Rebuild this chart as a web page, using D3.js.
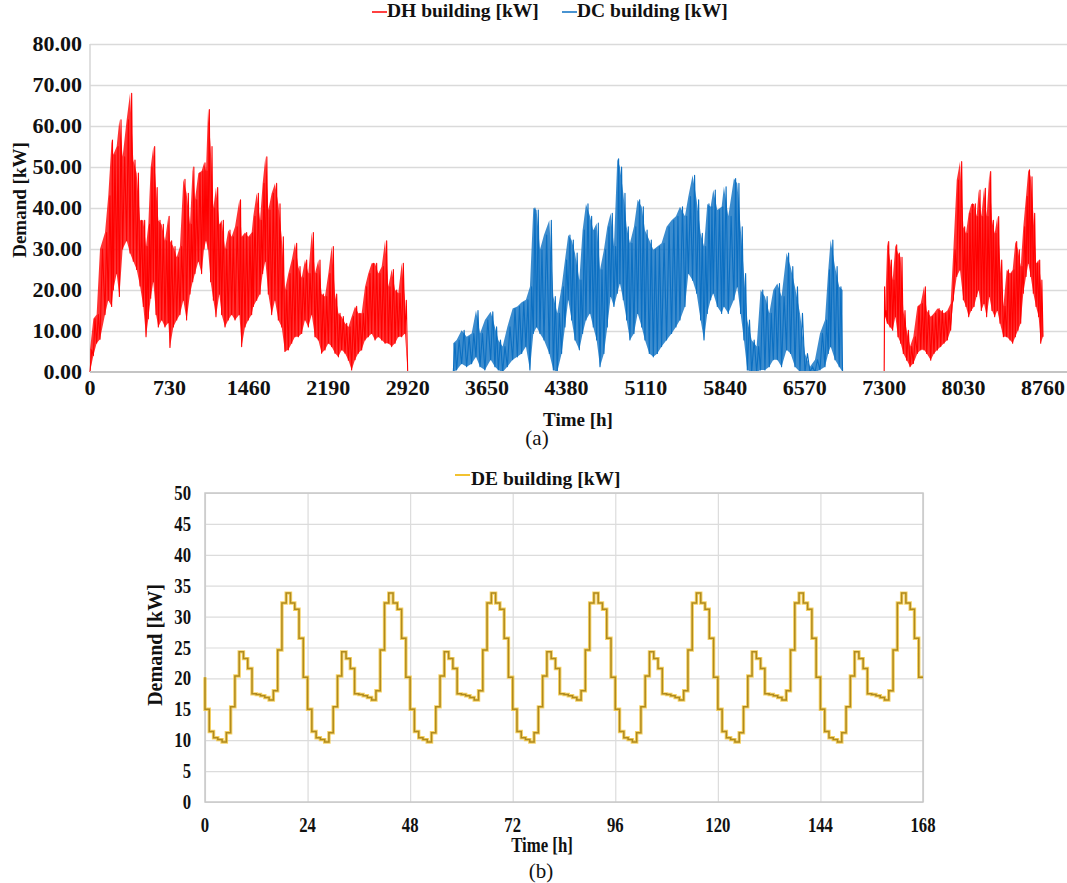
<!DOCTYPE html>
<html><head><meta charset="utf-8">
<script src="https://cdn.jsdelivr.net/npm/d3@7"></script>
<style>
body{margin:0;background:#fff}
svg{display:block}
text{font-family:"Liberation Serif","Times New Roman",serif;fill:#111}
</style>
</head><body>
<svg id="c" width="1067" height="883"></svg>
<script>
// ---------- DATA ----------
// (a) yearly demand: envelope samples (hour, daily-peak high, daily low)
const dhHours1 = [0,31,61,92,138,168,199,214,245,270,300,337,368,398,429,460,490,515,536,558,582,607,628,659,689,720,735,766,797,827,858,888,919,944,965,996,1026,1048,1066,1085,1109,1134,1158,1189,1210,1241,1271,1302,1333,1373,1394,1425,1455,1486,1501,1532,1563,1587,1612,1639,1670,1700,1731,1762,1792,1823,1854,1884,1915,1946,1976,2007,2038,2068,2099,2129,2160,2191,2221,2252,2283,2313,2344,2375,2405,2436,2466,2497,2528,2558,2589,2620,2650,2681,2712,2742,2773,2804,2834,2865,2895,2920];
const dhHigh1 = [5.4,13,14,30,34,43,56.6,53,55,61.5,52.5,61.5,68,51.7,48.5,37,37,30.6,36,50,55,45,37,36,32,38,32,30.6,28,30.6,47,43.6,36,50,42,48.5,49,51,49,64,55,40,45,36,37,30,34.6,33,35.4,42,33,34,33,34,38,43.6,37,46,52.5,39.5,43.6,46,41,33,20,24,27.3,31.4,25.7,23,27.3,24,34,24,27.3,19,18.4,24,30.6,19,14.3,13.5,11.9,11,13.5,16,14.3,14.3,20.8,24,26.5,26.5,24,25.7,32,20.8,25,20,19.2,26.5,17.5,0];
const dhLow1 = [0,4,7,8,14,17.5,16,20,24,18.4,30,32,29,27,25,21,16,8.6,13,18,22,14,11,12.7,11,12,6,11,12.7,14,17.5,12.7,19,22,24,27,24,30,32,30,22,17.5,13.5,19,14,11,12.7,14,12.7,14,6.2,11,12.7,14,16,17.5,19,24,27,19,14,17.5,12.7,11,5,5.4,7,8.6,8.6,9.4,12.7,11,14,8.6,7.8,4.6,5.4,7,6.2,4.6,3.7,5.4,4.6,2.9,0.5,3,4.6,5.4,7.8,8.6,9.4,7.8,8.6,7.8,7,7,6.2,7,8.6,8.6,9.4,0];

const dcHours = [3339,3370,3416,3462,3508,3548,3585,3630,3683,3722,3753,3793,3836,3885,3928,3968,4007,4044,4075,4105,4136,4173,4222,4259,4295,4335,4366,4396,4427,4458,4498,4528,4559,4596,4626,4657,4688,4724,4755,4786,4816,4847,4871,4902,4933,4963,5000,5034,5071,5101,5141,5178,5215,5254,5300,5346,5386,5423,5469,5500,5539,5576,5613,5644,5674,5705,5729,5766,5806,5827,5867,5919,5950,5980,6011,6042,6082,6128,6164,6204,6244,6281,6318,6357,6403,6440,6480,6526,6572,6618,6664,6710,6756,6786,6808,6848,6887,6918];
const dcHigh = [7,7.8,10.2,8.6,9.4,15,9.4,12.7,14.7,11,7.8,6.2,11,15.5,16,17,17.6,20.8,40,39.5,29.8,33.4,37,18.4,14.3,20.8,27.3,33.4,32.2,29,22.4,34.6,41,38,34.6,36.3,24.9,29.8,35.4,38.7,30.6,52,50,43.6,35.4,31.4,35.4,42,40.3,34.6,32.2,29.8,30.6,31.4,35.4,37,38,40.3,38,42.8,48,42,33.8,30.6,41,40.3,44.4,39.5,40.3,45.2,38,47.2,46,35.4,24,12.7,7.8,6.2,20,18.4,14.3,20,21.6,18.4,29,25.7,20.8,14.3,4.5,1.3,3,9.4,12.7,24.9,32.2,25.7,20.8,20];
const dcLow = [0,0.5,2,1.3,2,3.7,1.3,0.5,3,1.3,0.5,0,1.3,3,3.7,4.5,6.2,0.5,9.4,11,9.4,7.8,4.5,0.5,0,4.5,11,17.6,12.7,7.8,5.4,9.4,12.7,14.3,11,7.8,1.3,4.5,11,18.4,16,19.2,21.6,17.6,12.7,7.8,9.4,14.3,11,7.8,4.5,3.7,4.5,6.2,7.8,9.4,11,12.7,16,24,22.4,19.2,12.7,7.8,14.3,17.6,19.2,16,14.3,16,14.3,17.6,20.8,14.3,7.8,0.5,0,0,0.5,0.5,1.3,3,3,1.3,5.4,4.5,1.3,0,0,0,0,0.5,1.3,4.5,6.2,3,1.3,0];

const dhHours2 = [7300,7308,7329,7354,7378,7403,7427,7452,7476,7507,7538,7568,7605,7636,7666,7691,7728,7758,7789,7820,7850,7881,7911,7936,7967,7997,8028,8052,8077,8101,8126,8150,8169,8193,8218,8242,8267,8291,8316,8340,8365,8396,8426,8457,8481,8506,8530,8555,8579,8604,8625,8647,8671,8696,8720,8739,8760];
const dhHigh2 = [20.8,15,31.8,27.3,22.4,31,29,28,15,10.2,6.2,8.6,16,16.7,20.8,15,13.5,14.3,15.5,15,14.3,15,16.7,29.8,46.8,51.3,35.4,33.8,38.7,41,41,37.9,44.4,37.9,44.8,37.9,48.9,37,33.8,37.9,27.3,16,24.9,24,24.9,31.8,29.8,25.7,35.4,42.8,49.3,47.6,38.7,26.5,27.3,22.4,14.3];
const dhLow2 = [0,13.5,11.9,11,10.2,13.5,8.6,7,4.5,2.9,1.3,2.1,4.5,5.4,5.4,4.5,2.9,4.5,5.4,6.2,7,7.8,10.2,17.6,23.3,24.9,17.6,16,13.5,15,16,18.4,20,15,16.7,13.5,18.4,15,13.5,15,11.9,8.6,8.6,7.8,7,8.6,10.2,11.9,19.2,23.3,26.5,23.3,19.2,16,13.5,7,8.6];

const yTicksA = [0,10,20,30,40,50,60,70,80];
const xTicksA = [0,730,1460,2190,2920,3650,4380,5110,5840,6570,7300,8030,8760];

// (b) one week of hourly DE demand [kW], value k covers hour (k-1, k]
const deDemand = [20.2,
 15,11.4,10.4,10.1,9.7,11.2,15.4,20.4,24.3,23.2,21.6,17.5,17.4,17.2,16.9,16.5,18.0,24.6,32.2,33.8,32.2,31.2,26.5,20.2,
 15,11.4,10.4,10.1,9.7,11.2,15.4,20.4,24.3,23.2,21.6,17.5,17.4,17.2,16.9,16.5,18.0,24.6,32.2,33.8,32.2,31.2,26.5,20.2,
 15,11.4,10.4,10.1,9.7,11.2,15.4,20.4,24.3,23.2,21.6,17.5,17.4,17.2,16.9,16.5,18.0,24.6,32.2,33.8,32.2,31.2,26.5,20.2,
 15,11.4,10.4,10.1,9.7,11.2,15.4,20.4,24.3,23.2,21.6,17.5,17.4,17.2,16.9,16.5,18.0,24.6,32.2,33.8,32.2,31.2,26.5,20.2,
 15,11.4,10.4,10.1,9.7,11.2,15.4,20.4,24.3,23.2,21.6,17.5,17.4,17.2,16.9,16.5,18.0,24.6,32.2,33.8,32.2,31.2,26.5,20.2,
 15,11.4,10.4,10.1,9.7,11.2,15.4,20.4,24.3,23.2,21.6,17.5,17.4,17.2,16.9,16.5,18.0,24.6,32.2,33.8,32.2,31.2,26.5,20.2,
 15,11.4,10.4,10.1,9.7,11.2,15.4,20.4,24.3,23.2,21.6,17.5,17.4,17.2,16.9,16.5,18.0,24.6,32.2,33.8,32.2,31.2,26.5,20.2];
const yTicksB = [0,5,10,15,20,25,30,35,40,45,50];
const xTicksB = [0,24,48,72,96,120,144,168];

// ---------- DRAWING ----------
const svg = d3.select('#c');
const RED = '#FF0000', BLUE = '#0B6FC2', GOLD = '#B08A1E', GOLD2 = '#F2C230';

function label(x, y, s, o) {
  let tr = `translate(${x},${y})`;
  if (o.rot) tr += ` rotate(${o.rot})`;
  if (o.sx) tr += ` scale(${o.sx},1)`;
  svg.append('text').attr('transform', tr)
    .attr('text-anchor', o.anchor || 'middle')
    .attr('font-size', o.size)
    .attr('font-weight', o.bold ? 'bold' : 'normal')
    .text(s);
}

// ---- chart (a) ----
const xA = d3.scaleLinear([0, 8760], [90, 1043]);
const yA = d3.scaleLinear([0, 80], [372, 44]);
const gA = svg.append('g');

gA.append('g').attr('transform', 'translate(90,0)')
  .call(d3.axisLeft(yA).tickValues(yTicksA.slice(1)).tickSize(-(1067 - 90)).tickFormat(''))
  .call(g => g.select('.domain').remove())
  .call(g => g.selectAll('line').attr('stroke', '#dadada').attr('stroke-width', 1.6));
gA.append('line').attr('x1', 90).attr('x2', 90).attr('y1', yA(80)).attr('y2', yA(0))
  .attr('stroke', '#d6d6d6').attr('stroke-width', 1.5);

function envelope(hours, hi, lo, color) {
  const pts = [];
  hours.forEach((h, i) => {
    pts.push([h, lo[i]]);
    if (i < hours.length - 1) pts.push([(h + hours[i + 1]) / 2, hi[i]]);
  });
  const band = hours.map((h, i) => [h, lo[i], hi[i]]);
  gA.append('path').datum(band)
    .attr('d', d3.area().x(d => xA(d[0])).y0(d => yA(d[1])).y1(d => yA(d[2])))
    .attr('fill', color).attr('fill-opacity', 0.8);
  gA.append('path').datum(pts)
    .attr('d', d3.line().x(d => xA(d[0])).y(d => yA(d[1])))
    .attr('fill', 'none').attr('stroke', color).attr('stroke-width', 1.1).attr('stroke-linejoin', 'round');
}
envelope(dhHours1, dhHigh1, dhLow1, RED);
envelope(dcHours, dcHigh, dcLow, BLUE);
envelope(dhHours2, dhHigh2, dhLow2, RED);

gA.append('line').attr('x1', 90).attr('x2', 1067).attr('y1', yA(0)).attr('y2', yA(0))
  .attr('stroke', '#c4c4c4').attr('stroke-width', 2);

yTicksA.forEach(v => label(82, yA(v) + 7, d3.format('.2f')(v), {size: 22, bold: true, anchor: 'end'}));
xTicksA.forEach(v => label(xA(v), 395, String(v), {size: 22, bold: true}));
label(578, 426, 'Time [h]', {size: 19, bold: true});
label(26, 200, 'Demand [kW]', {size: 19, bold: true, rot: -90});
label(537, 445, '(a)', {size: 21});

// legend (a)
svg.append('line').attr('x1', 372).attr('x2', 387).attr('y1', 12).attr('y2', 12).attr('stroke', RED).attr('stroke-width', 1.5);
label(387, 17, 'DH building [kW]', {size: 19.5, bold: true, anchor: 'start'});
svg.append('line').attr('x1', 562).attr('x2', 577).attr('y1', 12).attr('y2', 12).attr('stroke', BLUE).attr('stroke-width', 1.5);
label(577, 17, 'DC building [kW]', {size: 19.5, bold: true, anchor: 'start'});

// ---- chart (b) ----
const xB = d3.scaleLinear([0, 168], [205, 923]);
const yB = d3.scaleLinear([0, 50], [802, 493]);
const gB = svg.append('g');
gB.append('g').attr('transform', 'translate(205,0)')
  .call(d3.axisLeft(yB).tickValues(yTicksB).tickSize(-(923 - 205)).tickFormat(''))
  .call(g => g.select('.domain').remove())
  .call(g => g.selectAll('line').attr('stroke', '#dcdcdc').attr('stroke-width', 1.2));
gB.append('g').attr('transform', 'translate(0,802)')
  .call(d3.axisBottom(xB).tickValues(xTicksB).tickSize(-(802 - 493)).tickFormat(''))
  .call(g => g.select('.domain').remove())
  .call(g => g.selectAll('line').attr('stroke', '#dcdcdc').attr('stroke-width', 1.2));
gB.append('rect').attr('x', 205).attr('y', 493).attr('width', 923 - 205).attr('height', 802 - 493)
  .attr('fill', 'none').attr('stroke', '#c8c8c8').attr('stroke-width', 1.5);

const deLine = d3.line().x((d, i) => xB(i)).y(d => yB(d)).curve(d3.curveStepBefore);
gB.append('path').datum(deDemand).attr('d', deLine)
  .attr('fill', 'none').attr('stroke', GOLD2).attr('stroke-width', 3.4).attr('stroke-opacity', 0.75);
gB.append('path').datum(deDemand).attr('d', deLine)
  .attr('fill', 'none').attr('stroke', GOLD).attr('stroke-width', 1.5);

yTicksB.forEach(v => label(191, yB(v) + 7, String(v), {size: 22, bold: true, anchor: 'end', sx: 0.76}));
xTicksB.forEach(v => label(xB(v), 832, String(v), {size: 22, bold: true, sx: 0.76}));
label(542, 852, 'Time [h]', {size: 21, bold: true, sx: 0.8});
label(162, 645, 'Demand [kW]', {size: 20, bold: true, rot: -90});
label(541, 878, '(b)', {size: 21});

svg.append('line').attr('x1', 455).attr('x2', 470).attr('y1', 475).attr('y2', 475).attr('stroke', GOLD2).attr('stroke-width', 2);
label(471, 485, 'DE building [kW]', {size: 19.5, bold: true, anchor: 'start'});
</script>
</body></html>
